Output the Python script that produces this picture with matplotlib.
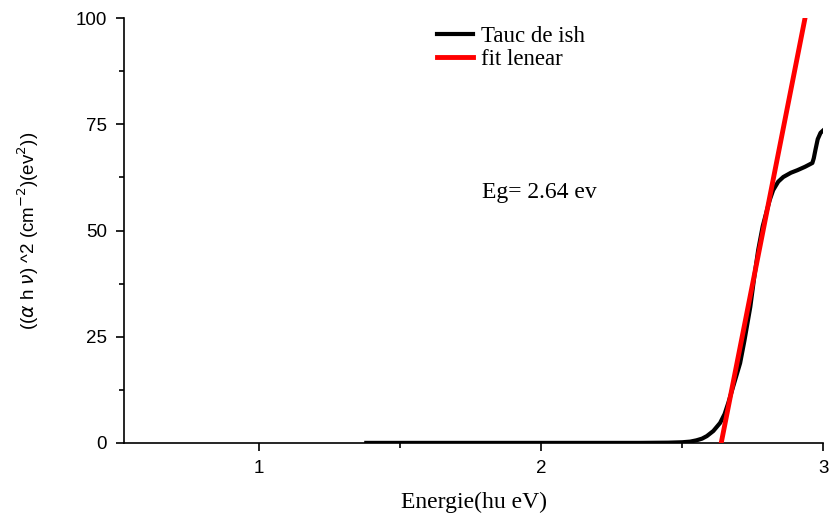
import matplotlib
matplotlib.use("Agg")
import matplotlib.pyplot as plt
from matplotlib.ticker import MultipleLocator

# Tauc curve
energy = [1.38, 1.8, 2.2, 2.35, 2.45, 2.5, 2.528, 2.55, 2.57, 2.587, 2.61, 2.634, 2.65,
          2.663, 2.68, 2.705, 2.72, 2.741, 2.755, 2.769, 2.785, 2.801, 2.81, 2.822,
          2.84, 2.858, 2.885, 2.908, 2.935, 2.961, 2.966, 2.972, 2.98, 2.99, 3.0]
tauc = [0.0, 0.0, 0.0, 0.0, 0.05, 0.15, 0.3, 0.6, 1.0, 1.6, 2.8, 4.7, 6.8,
        9.4, 13.2, 18.8, 24.0, 32.0, 39.0, 45.4, 51.0, 55.0, 57.2, 59.5,
        61.5, 62.6, 63.6, 64.2, 65.0, 65.9, 67.0, 69.0, 71.5, 73.0, 73.6]

# linear fit
fit_x = [2.638, 2.935]
fit_y = [0.0, 100.0]

fig = plt.figure(figsize=(8.3, 5.18), dpi=100)
ax = fig.add_axes([0.149, 0.145, 0.843, 0.82])

ax.plot(energy, tauc, color="black", lw=3.0, label="Tauc de ish", zorder=3,
        solid_joinstyle="round")
ax.plot(fit_x, fit_y, color="red", lw=3.5, label="fit lenear", zorder=4)

ax.set_xlim(0.52, 3.0)
ax.set_ylim(0, 100)
ax.xaxis.set_major_locator(MultipleLocator(1))
ax.xaxis.set_minor_locator(MultipleLocator(0.5))
ax.yaxis.set_major_locator(MultipleLocator(25))
ax.yaxis.set_minor_locator(MultipleLocator(12.5))
ax.tick_params(which="major", direction="out", length=6, width=1.2,
               labelsize=13.5, pad=6)
ax.tick_params(which="minor", direction="out", length=3.5, width=1.2)
for lab in ax.get_xticklabels() + ax.get_yticklabels():
    lab.set_fontfamily("Liberation Sans")

ax.spines["top"].set_visible(False)
ax.spines["right"].set_visible(False)
ax.spines["left"].set_linewidth(1.2)
ax.spines["bottom"].set_linewidth(1.2)

ax.set_xlabel("Energie(hu eV)", fontfamily="Liberation Serif", fontsize=17)
ax.xaxis.set_label_coords(0.5, -0.115)
ax.set_ylabel(r"(($\alpha$ h $\nu$) ^2 (cm$^{-2}$)(ev$^2$))",
              fontfamily="Liberation Sans", fontsize=13.5)
ax.yaxis.set_label_coords(-0.118, 0.5)

leg = ax.legend(loc="upper left", bbox_to_anchor=(0.418, 1.03), frameon=False,
                prop={"family": "Liberation Serif", "size": 16.5},
                handlelength=1.6, handletextpad=0.35, labelspacing=0.1)

ax.text(0.512, 0.59, "Eg= 2.64 ev", transform=ax.transAxes,
        fontfamily="Liberation Serif", fontsize=17, ha="left", va="center")

fig.savefig("out.png", dpi=100)
